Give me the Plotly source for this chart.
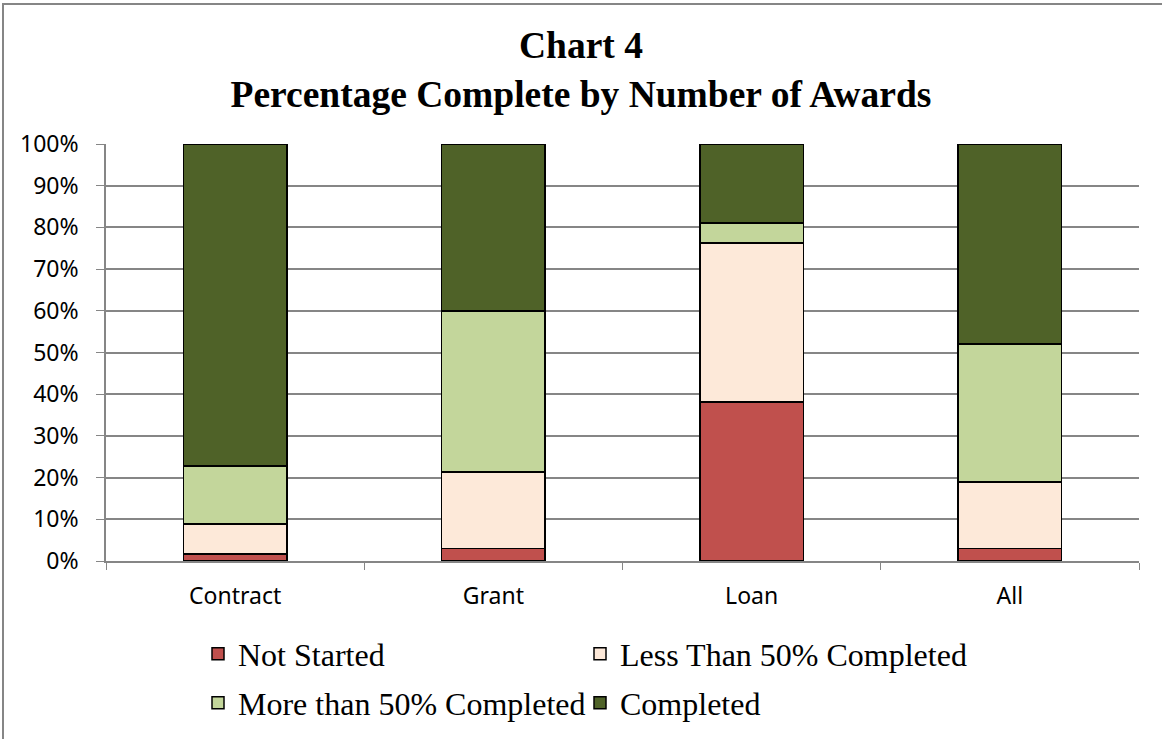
import plotly.graph_objects as go

categories = ["Contract", "Grant", "Loan", "All"]
not_started = [1.7, 3.0, 38.1, 3.0]
less_than_50 = [7.2, 18.3, 38.2, 16.0]
more_than_50 = [13.9, 38.7, 4.7, 33.0]
completed = [77.2, 40.0, 19.0, 48.0]

series = [
    ("Not Started", not_started, "#C0504D", "legend"),
    ("Less Than 50% Completed", less_than_50, "#FDE9D9", "legend2"),
    ("More than 50% Completed", more_than_50, "#C3D69B", "legend3"),
    ("Completed", completed, "#4F6228", "legend4"),
]

fig = go.Figure()
for name, vals, color, lg in series:
    fig.add_trace(go.Bar(
        x=categories, y=vals, name=name, legend=lg,
        marker=dict(color=color, line=dict(color="#000000", width=1.5)),
    ))

W, H = 1162, 739
L, R, T, B = 106, 23, 144, 178
pw = W - L - R
ph = H - T - B


def py(page_y):
    return (H - B - page_y) / ph


def px(page_x):
    return (page_x - L) / pw


legend_common = dict(
    orientation="h", xanchor="left", yanchor="middle",
    font=dict(family="Liberation Serif", size=32, color="#000000"),
    itemwidth=30, bgcolor="rgba(0,0,0,0)",
)

fig.update_layout(
    width=W, height=H,
    barmode="stack", bargap=0.6,
    paper_bgcolor="white", plot_bgcolor="white",
    margin=dict(l=L, r=R, t=T, b=B, autoexpand=False),
    title=dict(
        text="<b>Chart 4<br>Percentage Complete by Number of Awards</b>",
        x=0.5, xanchor="center", xref="container",
        y=(H - 58) / H, yanchor="middle", yref="container",
        font=dict(family="Liberation Serif", size=37.5, color="#000000"),
    ),
    showlegend=True,
    legend=dict(x=px(198), y=py(654), **legend_common),
    legend2=dict(x=px(580), y=py(654), **legend_common),
    legend3=dict(x=px(198), y=py(703), **legend_common),
    legend4=dict(x=px(580), y=py(703), **legend_common),
    xaxis=dict(
        showline=True, linecolor="#868686", linewidth=1.5,
        ticks="outside", tickson="boundaries", ticklen=7, tickcolor="#868686",
        tickfont=dict(family="Noto Sans", size=23, color="#000000"),
        ticklabelstandoff=14,
        showgrid=False,
    ),
    yaxis=dict(
        range=[0, 100], dtick=10, ticksuffix="%",
        showline=True, linecolor="#868686", linewidth=1.5,
        ticks="outside", ticklen=8, tickcolor="#868686",
        showgrid=True, gridcolor="#868686", gridwidth=1.5,
        tickfont=dict(family="Noto Sans", size=23, color="#000000"),
        ticklabelstandoff=13,
        zeroline=False,
    ),
)

# outer chart border
fig.add_shape(
    type="rect", xref="paper", yref="paper",
    x0=px(3), x1=px(1170),
    y0=py(745), y1=py(4),
    line=dict(color="#868686", width=2), fillcolor="rgba(0,0,0,0)",
    layer="below",
)

fig.write_html(
    "out.html",
    config={"displayModeBar": False},
    post_script="document.body.style.margin='0';document.body.style.padding='0';",
)
